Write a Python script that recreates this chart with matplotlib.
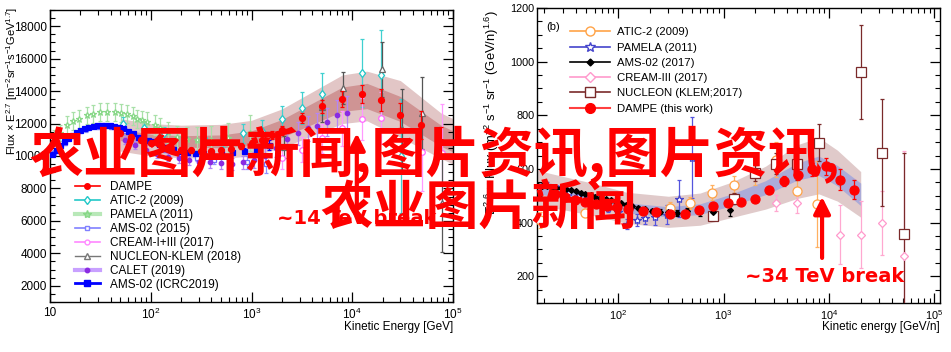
import numpy as np
import matplotlib
matplotlib.use("Agg")
import matplotlib.pyplot as plt
from matplotlib.lines import Line2D
from matplotlib.ticker import LogLocator, MultipleLocator, FuncFormatter, NullFormatter

plt.rcParams['font.family'] = ['Liberation Sans', 'DejaVu Sans']
plt.rcParams['mathtext.default'] = 'regular'

# ---------------- panel (a): proton flux x E^2.7 ----------------
p_dampe_E = [50, 63, 80, 100, 126, 158, 200, 251, 316, 398, 501, 631, 794, 1000, 1260,
             1580, 2000, 3200, 5000, 7900, 12500, 19500, 30000, 48000, 76000]
p_dampe_F = [11400, 11200, 11000, 10800, 10650, 10500, 10400, 10350, 10300, 10300, 10350,
             10450, 10600, 10800, 11000, 11300, 11600, 12340, 13080, 13500, 13800, 13450,
             12500, 11900, 10860]
p_dampe_err = [150, 150, 150, 150, 150, 150, 150, 150, 150, 150, 160, 170, 180, 200, 220,
               250, 280, 330, 400, 480, 560, 650, 750, 850, 950]

p_band_E = [50, 100, 200, 500, 1000, 2000, 4000, 8000, 14000, 30000, 76000, 100000]
p_band_mid = [11300, 11000, 10900, 10900, 11100, 11700, 12600, 13500, 13700, 12900, 11250, 10900]
p_band_inner = [350, 350, 350, 400, 450, 550, 650, 750, 780, 770, 650, 650]
p_band_outer = [1000, 1000, 1000, 1050, 1100, 1200, 1350, 1500, 1530, 1750, 1400, 1400]

p_atic_E = [53, 85, 135, 215, 340, 520, 820, 1270, 2000, 3150, 5000, 12400, 19500, 30800]
p_atic_F = [12000, 11700, 11400, 11200, 11100, 11100, 11400, 11540, 12280, 12950, 13800,
            15100, 15000, 10000]
p_atic_err = [400, 400, 400, 450, 500, 550, 600, 700, 800, 1000, 1300, 2100, 2750, 3500]

p_pamela_E = [11, 12.6, 14.7, 17, 19.5, 23.3, 27, 31.3, 37, 44.2, 51, 58, 66, 73, 82, 92,
              110, 124, 150, 182, 230, 287, 400, 584, 965]
p_pamela_F = [11100, 11400, 11900, 12150, 12300, 12500, 12600, 12700, 12700, 12700, 12650,
              12600, 12450, 12300, 12200, 12100, 11900, 11700, 11450, 11170, 11050, 11000,
              11000, 11100, 11400]
p_pamela_err = [500, 500, 550, 550, 550, 550, 550, 550, 550, 550, 550, 550, 550, 550, 600,
                600, 600, 650, 650, 700, 750, 800, 850, 950, 1100]

p_ams15_E = [11, 14, 18, 23, 30, 40, 55, 75, 100, 140, 200, 290, 420, 610, 900, 1400]
p_ams15_F = [10200, 10800, 11300, 11650, 11800, 11800, 11550, 11150, 10800, 10400, 10100,
             9900, 9750, 9630, 9600, 9500]
p_ams15_err = [150, 150, 150, 150, 150, 150, 150, 150, 150, 160, 180, 200, 250, 300, 400, 550]

p_cream_E = [2000, 3200, 5000, 7900, 12500, 19500, 49000, 78000]
p_cream_F = [9880, 10400, 11100, 11700, 12300, 12340, 10250, 10180]
p_cream_err = [700, 800, 900, 1100, 1300, 1600, 2400, 3000]

p_nucleon_E = [2100, 5000, 8100, 19800, 31000, 49000, 78000]
p_nucleon_F = [10550, 13000, 14180, 15350, 11660, 12640, 7100]
p_nucleon_err = [700, 900, 1000, 1700, 2500, 2200, 3000]

p_calet_E = [55, 70, 90, 115, 150, 190, 240, 300, 390, 500, 640, 820, 1050, 1350, 1750,
             2250, 2900, 3600, 4500, 5600, 7000, 8800]
p_calet_F = [11000, 10700, 10400, 10150, 9950, 9850, 9750, 9650, 9600, 9550, 9500, 9600,
             9750, 10000, 10500, 11050, 11400, 11700, 11850, 12100, 12500, 12650]
p_calet_err = [250, 250, 250, 250, 260, 270, 280, 300, 320, 350, 380, 420, 470, 520, 580,
               640, 700, 760, 820, 880, 950, 1050]

p_icrc_E = [10.5, 11.5, 12.6, 13.8, 15.1, 16.6, 18.2, 20, 22, 24, 26.5, 29, 32, 35, 39, 43,
            48, 53, 59, 66, 74, 83, 93, 105, 120, 140, 165, 195, 230, 275, 330, 400, 500,
            640, 840, 1120, 1500]
p_icrc_F = [10100, 10400, 10650, 10900, 11100, 11300, 11450, 11600, 11700, 11800, 11850,
            11900, 11900, 11900, 11900, 11850, 11800, 11700, 11550, 11400, 11200, 11050,
            11000, 10900, 10750, 10570, 10450, 10300, 10230, 10190, 10170, 10170, 10180,
            10220, 10300, 10450, 10680]
p_icrc_err = [60, 60, 60, 60, 60, 60, 60, 60, 60, 60, 60, 60, 60, 60, 60, 60, 60, 60, 60,
              60, 60, 60, 60, 70, 70, 70, 80, 80, 90, 100, 110, 120, 140, 160, 190, 230, 300]

# ---------------- panel (b): helium flux x E^2.6 ----------------
he_dampe_E = [25, 31, 39, 49, 62, 78, 98, 124, 173, 229, 311, 431, 586, 794, 1100, 1470,
              1990, 2700, 3730, 5080, 6900, 9370, 12700, 17200]
he_dampe_F = [505, 495, 485, 477, 470, 463, 457, 451, 444, 440, 433, 433, 448, 463, 474,
              478, 489, 523, 556, 579, 598, 609, 560, 523]
he_dampe_err = [5, 5, 5, 5, 5, 5, 5, 5, 5, 6, 6, 7, 8, 9, 10, 11, 13, 15, 18, 20, 25, 30,
                40, 35]

he_band_E = [17, 30, 60, 120, 300, 600, 1200, 2500, 5000, 8000, 12000, 20000]
he_band_mid = [530, 510, 485, 455, 440, 450, 485, 530, 590, 612, 575, 505]
he_band_inner = [22, 21, 20, 19, 19, 20, 22, 26, 32, 36, 38, 42]
he_band_outer = [65, 62, 60, 58, 58, 60, 66, 80, 100, 105, 95, 85]

he_atic_E = [18, 48, 311, 481, 780, 1260, 1990, 3150, 5000, 7700]
he_atic_F = [410, 436, 455, 474, 511, 541, 586, 635, 519, 470]
he_atic_err = [30, 15, 20, 22, 28, 32, 45, 65, 50, 160]

he_pamela_E = [21, 27, 34, 42, 52, 65, 80, 100, 122, 150, 180, 224, 291, 378, 502]
he_pamela_F = [541, 525, 515, 500, 490, 470, 455, 440, 395, 410, 418, 420, 429, 489, 642]
he_pamela_err = [10, 10, 10, 12, 12, 14, 15, 18, 20, 22, 25, 30, 35, 70, 150]

he_ams_E = [17, 19, 21, 23.5, 26, 29, 32, 36, 40, 44, 49, 55, 61, 68, 76, 85, 95, 107, 120,
            135, 155, 180, 210, 250, 300, 360, 450, 600, 800, 1150]
he_ams_F = [540, 538, 535, 533, 530, 527, 524, 521, 517, 511, 507, 502, 497, 493, 488, 484,
            478, 472, 467, 461, 455, 449, 444, 441, 438, 436, 444, 440, 440, 448]
he_ams_err = [4, 4, 4, 4, 4, 4, 4, 4, 4, 4, 4, 4, 4, 4, 4, 5, 5, 5, 5, 5, 6, 6, 7, 8, 9,
              10, 12, 15, 18, 25]

he_cream_E = [3150, 5000, 12700, 20000, 31600, 51000]
he_cream_F = [474, 474, 354, 354, 399, 276]
he_cream_err = [30, 40, 110, 125, 120, 390]

he_nucleon_E = [794, 1260, 1990, 3150, 5000, 8000, 20000, 31600, 51000]
he_nucleon_F = [425, 489, 586, 620, 620, 698, 960, 661, 358]
he_nucleon_err = [15, 20, 30, 40, 60, 70, 175, 200, 300]

RED = '#ff0000'


def log_label(v, _):
    if v <= 0:
        return ''
    n = int(round(np.log10(v)))
    return '10' if n == 1 else '$10^{%d}$' % n


def style_axis(ax, xlim, ylim, ymajor, yminor, labelsize):
    ax.set_xscale('log')
    ax.set_xlim(*xlim)
    ax.set_ylim(*ylim)
    ax.yaxis.set_major_locator(MultipleLocator(ymajor))
    ax.yaxis.set_minor_locator(MultipleLocator(yminor))
    ax.xaxis.set_major_locator(LogLocator(base=10, numticks=10))
    ax.xaxis.set_minor_locator(LogLocator(base=10, subs=np.arange(2, 10), numticks=12))
    ax.xaxis.set_major_formatter(FuncFormatter(log_label))
    ax.xaxis.set_minor_formatter(NullFormatter())
    ax.tick_params(which='both', direction='in', top=True, right=True, labelsize=labelsize)
    ax.tick_params(which='major', length=7, width=0.9)
    ax.tick_params(which='minor', length=3.5, width=0.8)
    ax.tick_params(axis='y', pad=2)
    for s in ax.spines.values():
        s.set_linewidth(1.0)


def draw_band(ax, E, mid, inner, outer, c_outer, c_inner):
    mid = np.array(mid)
    ax.fill_between(E, mid - np.array(outer), mid + np.array(outer), color=c_outer, lw=0, zorder=1)
    ax.fill_between(E, mid - np.array(inner), mid + np.array(inner), color=c_inner, lw=0, zorder=1.5)


def series(ax, E, F, err, marker, color, ecolor, ms, filled, elw=0.9, z=3):
    ax.errorbar(E, F, yerr=err, fmt=marker, color=color, ecolor=ecolor, ms=ms,
                mfc=color if filled else 'white', mec=color, mew=0.9,
                elinewidth=elw, capsize=1.5, capthick=elw, zorder=z)


def plot_proton(ax):
    draw_band(ax, p_band_E, p_band_mid, p_band_inner, p_band_outer, '#e2c6c6', '#cf9494')
    series(ax, p_pamela_E, p_pamela_F, p_pamela_err, '*', '#88d888', '#a8e0a8', 5, False)
    series(ax, p_ams15_E, p_ams15_F, p_ams15_err, 's', '#7070ff', '#9090ff', 3.5, False)
    series(ax, p_atic_E, p_atic_F, p_atic_err, 'd', '#22c8c8', '#40d0d0', 4.5, False)
    series(ax, p_cream_E, p_cream_F, p_cream_err, 'o', '#ff66ff', '#ff99ff', 4, False)
    series(ax, p_nucleon_E, p_nucleon_F, p_nucleon_err, '^', '#666666', '#555555', 4.5, False)
    series(ax, p_calet_E, p_calet_F, p_calet_err, 'o', '#8a2be2', '#b585f5', 3.2, True)
    series(ax, p_icrc_E, p_icrc_F, p_icrc_err, 's', '#0000ff', '#0000ff', 3.6, True)
    series(ax, p_dampe_E, p_dampe_F, p_dampe_err, 'o', RED, RED, 4.3, True, z=4)

    style_axis(ax, (10, 1e5), (1000, 19000), 2000, 500, 8.5)

    handles = [
        Line2D([], [], color=RED, marker='o', ms=4, lw=1.2),
        Line2D([], [], color='#22c8c8', marker='d', ms=4.5, mfc='white', lw=1.2),
        Line2D([], [], color='#b8e8b8', marker='*', ms=6, mfc='#a0e0a0', mec='#88d888', lw=3),
        Line2D([], [], color='#8080ff', marker='s', ms=3.5, mfc='white', lw=1.2),
        Line2D([], [], color='#ff88ff', marker='o', ms=3.5, mfc='white', lw=1.2),
        Line2D([], [], color='#777777', marker='^', ms=4, mfc='white', lw=1.0),
        Line2D([], [], color='#c8a0ff', marker='o', ms=3.2, mfc='#8a2be2', mec='#8a2be2', lw=3),
        Line2D([], [], color='#0000ff', marker='s', ms=4, lw=2),
    ]
    labels = ['DAMPE', 'ATIC-2 (2009)', 'PAMELA (2011)', 'AMS-02 (2015)',
              'CREAM-I+III (2017)', 'NUCLEON-KLEM (2018)', 'CALET (2019)', 'AMS-02 (ICRC2019)']
    ax.legend(handles, labels, loc='upper left', bbox_to_anchor=(0.062, 0.413), frameon=False,
              fontsize=8.5, handlelength=2.1, handletextpad=0.9, labelspacing=0.16,
              borderpad=0, borderaxespad=0)

    ax.annotate('', xy=(11100, 11400), xytext=(11100, 7000),
                arrowprops=dict(arrowstyle='-|>,head_width=0.25,head_length=0.5',
                                color=RED, lw=3, mutation_scale=20, shrinkA=0, shrinkB=0),
                zorder=6)
    ax.text(1790, 6120, '~14 TeV break', color=RED, fontsize=14, fontweight='bold',
            family='DejaVu Sans', va='center', ha='left', zorder=6)


def plot_helium(ax):
    draw_band(ax, he_band_E, he_band_mid, he_band_inner, he_band_outer, '#e0caca', '#ababd8')
    series(ax, he_pamela_E, he_pamela_F, he_pamela_err, '*', '#4444cc', '#5555dd', 6, False)
    series(ax, he_atic_E, he_atic_F, he_atic_err, 'o', '#ffa347', '#ffb060', 6.5, False)
    series(ax, he_cream_E, he_cream_F, he_cream_err, 'D', '#ff99cc', '#ffa8d0', 4.5, False)
    series(ax, he_nucleon_E, he_nucleon_F, he_nucleon_err, 's', '#7a2a2a', '#7a2a2a', 6.5, False)
    series(ax, he_ams_E, he_ams_F, he_ams_err, 'D', 'black', 'black', 3, True)
    series(ax, he_dampe_E, he_dampe_F, he_dampe_err, 'o', RED, RED, 6.5, True, z=4)

    style_axis(ax, (17, 1.13e5), (100, 1200), 200, 50, 7.8)

    handles = [
        Line2D([], [], color='#ffa347', marker='o', ms=6.5, mfc='white', lw=1.2),
        Line2D([], [], color='#4444cc', marker='*', ms=7.5, mfc='white', lw=1.2),
        Line2D([], [], color='black', marker='D', ms=3.5, lw=1.2),
        Line2D([], [], color='#ff99cc', marker='D', ms=5, mfc='white', lw=1.2),
        Line2D([], [], color='#7a2a2a', marker='s', ms=6.5, mfc='white', lw=1.2),
        Line2D([], [], color='#ff4040', marker='o', ms=7, mfc=RED, mec=RED, lw=1.5),
    ]
    labels = ['ATIC-2 (2009)', 'PAMELA (2011)', 'AMS-02 (2017)', 'CREAM-III (2017)',
              'NUCLEON (KLEM;2017)', 'DAMPE (this work)']
    ax.legend(handles, labels, loc='upper left', bbox_to_anchor=(0.082, 0.934), frameon=False,
              fontsize=8.2, handlelength=3.5, handletextpad=0.6, labelspacing=0.46,
              borderpad=0, borderaxespad=0)
    ax.text(0.022, 0.936, '(b)', transform=ax.transAxes, fontsize=8, va='center')

    ax.annotate('', xy=(8600, 496), xytext=(8600, 268),
                arrowprops=dict(arrowstyle='-|>,head_width=0.25,head_length=0.5',
                                color=RED, lw=3, mutation_scale=20, shrinkA=0, shrinkB=0),
                zorder=6)
    ax.text(1600, 197, '~34 TeV break', color=RED, fontsize=14, fontweight='bold',
            family='DejaVu Sans', va='center', ha='left', zorder=6)


def main():
    fig = plt.figure(figsize=(9.51, 3.52), dpi=100)
    ax_p = fig.add_axes([50 / 951, 50 / 352, 403 / 951, 292 / 352])
    ax_he = fig.add_axes([537 / 951, 49 / 352, 403 / 951, 295 / 352])

    plot_proton(ax_p)
    plot_helium(ax_he)

    # axis titles
    fig.text(12 / 951, 197 / 352,
             r'Flux $\times$ E$^{2.7}$ [m$^{-2}$sr$^{-1}$s$^{-1}$GeV$^{1.7}$]',
             rotation=90, ha='center', va='bottom', fontsize=8)
    fig.text(453 / 951, 25 / 352, 'Kinetic Energy [GeV]', ha='right', va='center', fontsize=8.5)
    fig.text(492 / 951, 137 / 352,
             r'E$^{2.6}$ $\times$ Flux (m$^{-2}$ s$^{-1}$ sr$^{-1}$ (GeV/n)$^{1.6}$)',
             rotation=90, ha='center', va='bottom', fontsize=9.4)
    fig.text(940 / 951, 25 / 352, 'Kinetic energy [GeV/n]', ha='right', va='center', fontsize=8.5)

    # big red overlay caption
    cjk = ['Noto Sans CJK SC', 'DejaVu Sans']
    fig.text(29 / 951, 198 / 352, '农业图片新闻,图片资讯,图片资讯,', color=RED, fontsize=39,
             fontweight='bold', family=cjk, ha='left', va='center', zorder=20)
    fig.text(320 / 951, 144 / 352, '农业图片新闻', color=RED, fontsize=38,
             fontweight='bold', family=cjk, ha='left', va='center', zorder=20)

    fig.savefig('out.png', dpi=100)
    plt.close(fig)


if __name__ == "__main__":
    main()
